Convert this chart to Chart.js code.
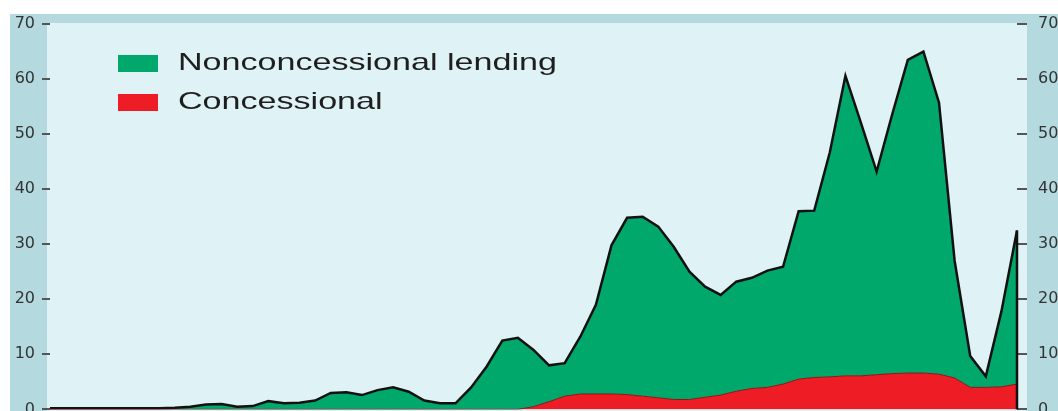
<!DOCTYPE html>
<html><head><meta charset="utf-8">
<script src="https://cdn.jsdelivr.net/npm/chart.js@4"></script>
<style>
html,body{margin:0;padding:0;background:#fff;overflow:hidden;}
#wrap{position:relative;width:1058px;height:430px;}
</style></head><body>
<div id="wrap"><canvas id="c"></canvas></div>
<script>
const years = [1950,1951,1952,1953,1954,1955,1956,1957,1958,1959,1960,1961,1962,1963,1964,1965,1966,1967,1968,1969,1970,1971,1972,1973,1974,1975,1976,1977,1978,1979,1980,1981,1982,1983,1984,1985,1986,1987,1988,1989,1990,1991,1992,1993,1994,1995,1996,1997,1998,1999,2000,2001,2002,2003,2004,2005,2006,2007,2008,2009,2010,2011,2012];
const nonconcessional = [0.2,0.2,0.2,0.2,0.2,0.2,0.2,0.2,0.3,0.5,0.9,1.0,0.5,0.6,1.5,1.1,1.2,1.6,3.0,3.1,2.6,3.5,4.0,3.2,1.6,1.1,1.1,4.0,7.8,12.5,13.0,10.3,6.6,6.0,10.4,16.2,27.0,32.1,32.6,31.1,27.7,23.2,20.1,18.2,19.9,20.1,21.2,21.3,30.5,30.3,40.8,54.5,45.9,36.9,47.1,56.9,58.4,49.3,21.3,5.7,2.0,13.7,27.9];
const concessional = [0,0,0,0,0,0,0,0,0,0,0,0,0,0,0,0,0,0,0,0,0,0,0,0,0,0,0,0,0,0,0,0.5,1.4,2.4,2.8,2.8,2.8,2.7,2.4,2.1,1.8,1.8,2.2,2.6,3.3,3.8,4.0,4.6,5.5,5.8,5.9,6.1,6.1,6.3,6.5,6.6,6.6,6.4,5.7,4.0,4.0,4.1,4.6];
const yMin = 0, yMax = 70, yStep = 10;

const bgPlugin = {
  id: 'bg',
  beforeDraw(chart) {
    const {ctx, chartArea: a, width, height} = chart;
    ctx.save();
    ctx.fillStyle = '#ffffff';
    ctx.fillRect(0, 0, width, height);
    ctx.fillStyle = '#b4dae0';
    ctx.fillRect(10, a.top - 10, width - 10, height);
    ctx.fillStyle = '#dff2f6';
    ctx.fillRect(a.left - 3, a.top - 1, (a.right + 10) - (a.left - 3), height);
    ctx.restore();
  }
};

const endLinePlugin = {
  id: 'endLine',
  afterDatasetsDraw(chart) {
    const meta = chart.getDatasetMeta(1);
    const pt = meta.data[meta.data.length - 1];
    const ctx = chart.ctx;
    ctx.save();
    ctx.strokeStyle = '#111';
    ctx.lineWidth = 2.5;
    ctx.beginPath();
    ctx.moveTo(pt.x, pt.y);
    ctx.lineTo(pt.x, chart.chartArea.bottom);
    ctx.stroke();
    ctx.restore();
  }
};

const legendPlugin = {
  id: 'innerLegend',
  afterDraw(chart) {
    const {ctx, chartArea: a} = chart;
    const items = chart.data.datasets.slice().reverse();
    ctx.save();
    items.forEach((ds, i) => {
      const bx = a.left + 68, by = a.top + 31 + i * 39;
      ctx.fillStyle = ds.backgroundColor;
      ctx.fillRect(bx, by, 40, 17);
      ctx.fillStyle = '#1e1e1e';
      ctx.font = '24px "Liberation Sans", Arial, sans-serif';
      ctx.textBaseline = 'middle';
      ctx.textAlign = 'left';
      ctx.save();
      ctx.translate(bx + 60, by + 8);
      ctx.scale(1.42, 1);
      ctx.fillText(ds.label, 0, 0);
      ctx.restore();
    });
    ctx.restore();
  }
};

const tickFont = {family: 'DejaVu Sans', size: 16};

new Chart(document.getElementById('c'), {
  type: 'line',
  data: {
    labels: years,
    datasets: [
      {label: 'Concessional', data: concessional, backgroundColor: '#ee1c25', borderColor: '#8a1515', borderWidth: 1, fill: 'origin', pointRadius: 0, tension: 0},
      {label: 'Nonconcessional lending', data: nonconcessional, backgroundColor: '#00a86b', borderColor: '#111111', borderWidth: 2.5, fill: '-1', pointRadius: 0, tension: 0}
    ]
  },
  options: {
    responsive: true,
    maintainAspectRatio: false,
    animation: false,
    devicePixelRatio: 1,
    layout: {padding: {top: 24, bottom: 18, left: 0, right: 0}},
    plugins: {legend: {display: false}, tooltip: {enabled: false}},
    scales: {
      x: {display: false, offset: false},
      y: {
        stacked: true, position: 'left', min: yMin, max: yMax,
        ticks: {stepSize: yStep, color: '#333', font: tickFont, padding: 7},
        grid: {drawOnChartArea: false, drawTicks: true, tickLength: 8, tickColor: '#555', lineWidth: 2},
        border: {display: false},
        afterFit(s) { s.width = 50; }
      },
      y2: {
        position: 'right', min: yMin, max: yMax,
        ticks: {stepSize: yStep, color: '#333', font: tickFont, padding: 11},
        grid: {drawOnChartArea: false, drawTicks: true, tickLength: 10, tickColor: '#555', lineWidth: 2},
        border: {display: false},
        afterFit(s) { s.width = 41; }
      }
    }
  },
  plugins: [bgPlugin, endLinePlugin, legendPlugin]
});
</script>
</body></html>
